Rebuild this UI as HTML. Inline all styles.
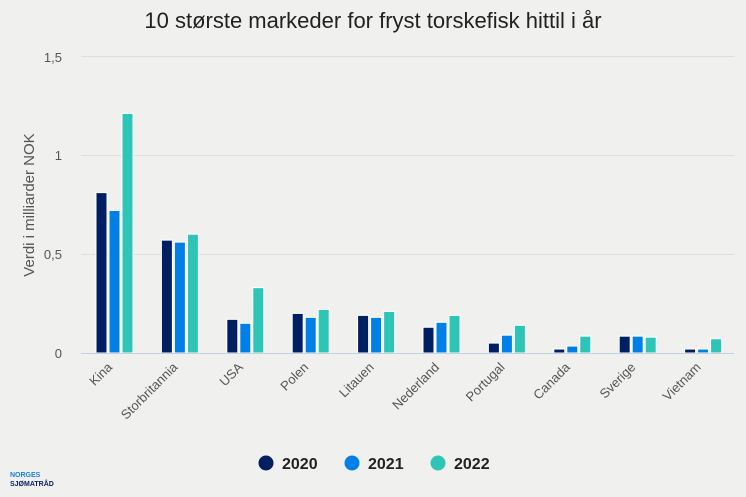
<!DOCTYPE html>
<html><head><meta charset="utf-8"><style>
html,body{margin:0;padding:0;background:#f0f1ef;}
svg{display:block;font-family:"Liberation Sans",Arial,sans-serif;}
</style></head><body>
<svg width="746" height="497" viewBox="0 0 746 497" xmlns="http://www.w3.org/2000/svg">
<rect width="746" height="497" fill="#f0f1ef"/>
<text x="373" y="28" text-anchor="middle" font-size="22" fill="#222">10 største markeder for fryst torskefisk hittil i år</text>
<g stroke="#dfe0de" stroke-width="1">
<line x1="81" y1="56.5" x2="734" y2="56.5"/>
<line x1="81" y1="155.5" x2="734" y2="155.5"/>
<line x1="81" y1="254.5" x2="734" y2="254.5"/>
</g>
<g font-size="13" fill="#555" text-anchor="end">
<text x="62" y="62">1,5</text><text x="62" y="160">1</text><text x="62" y="259">0,5</text><text x="62" y="358">0</text>
</g>
<text transform="translate(34,205) rotate(-90)" text-anchor="middle" font-size="15" fill="#555">Verdi i milliarder NOK</text>
<g id="bars" stroke="#fff" stroke-width="1"></g>
<line x1="81" y1="353.5" x2="734" y2="353.5" stroke="#c5cfdd" stroke-width="1"/>
<g id="labels" font-size="13" fill="#555" text-anchor="end"></g>
<circle cx="266" cy="463" r="7.5" fill="#001f63"/><text x="282" y="469" font-size="16" font-weight="bold" fill="#222">2020</text>
<circle cx="352" cy="463" r="7.5" fill="#0080e6"/><text x="368" y="469" font-size="16" font-weight="bold" fill="#222">2021</text>
<circle cx="438" cy="463" r="7.5" fill="#2ec4b6"/><text x="454" y="469" font-size="16" font-weight="bold" fill="#222">2022</text>
<text x="10" y="477" font-size="7" font-weight="bold" fill="#1a7fe0">NORGES</text>
<text x="10" y="486" font-size="7" font-weight="bold" fill="#0a1f5c">SJØMATRÅD</text>
<script>
var d=[["Kina",.81,.72,1.21],["Storbritannia",.57,.56,.6],["USA",.17,.15,.33],["Polen",.2,.18,.22],["Litauen",.19,.18,.21],["Nederland",.13,.155,.19],["Portugal",.05,.09,.14],["Canada",.02,.035,.085],["Sverige",.085,.085,.08],["Vietnam",.02,.02,.072]];
var c=["#001f63","#0080e6","#2ec4b6"],ns="http://www.w3.org/2000/svg";
var B=document.getElementById("bars"),L=document.getElementById("labels");
d.forEach(function(r,i){var cx=114+i*65.4;
for(var k=0;k<3;k++){var h=r[k+1]*198,x=cx-18+k*13;var e=document.createElementNS(ns,"rect");
e.setAttribute("x",x);e.setAttribute("y",353-h);e.setAttribute("width",11);e.setAttribute("height",h);e.setAttribute("fill",c[k]);B.appendChild(e);}
var t=document.createElementNS(ns,"text");t.setAttribute("transform","translate("+(cx-1)+",368) rotate(-45)");t.textContent=r[0];L.appendChild(t);});
</script>
</svg>
</body></html>
